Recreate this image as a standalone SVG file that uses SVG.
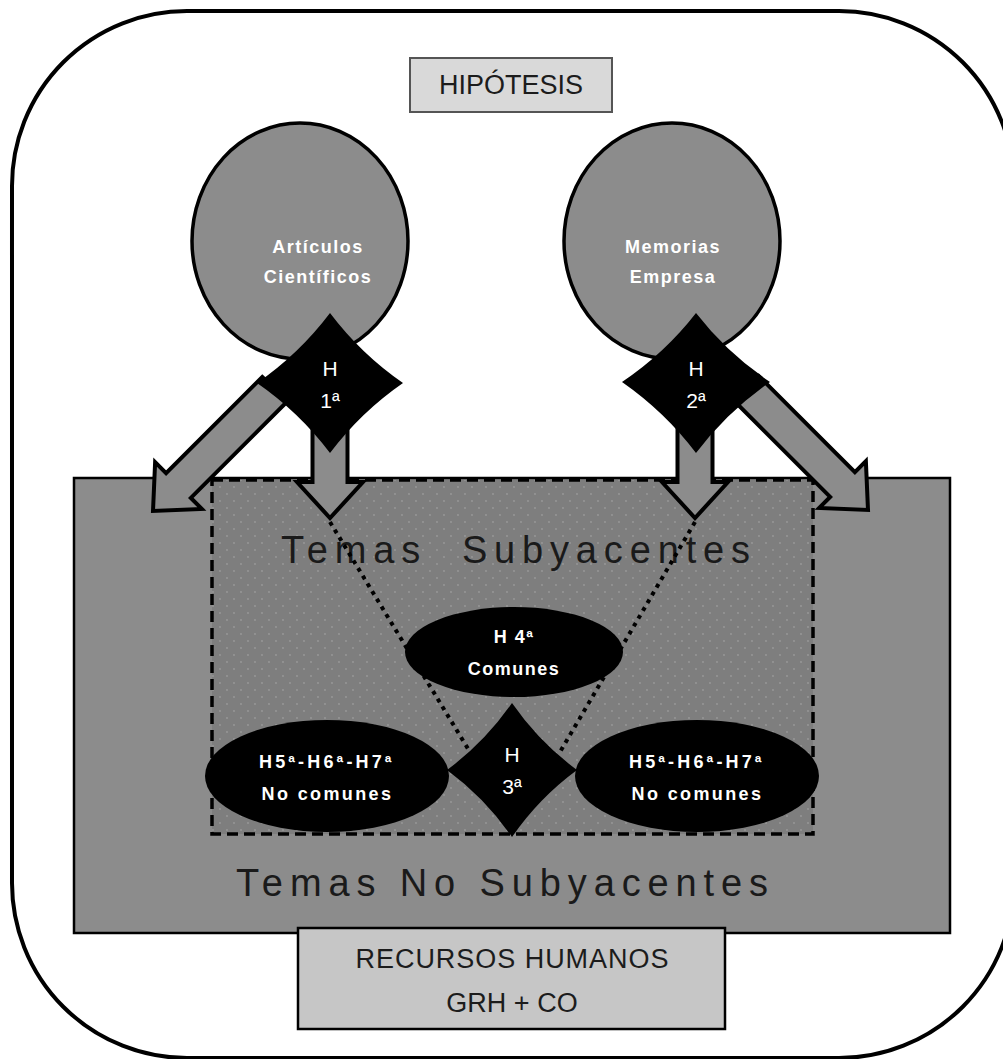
<svg xmlns="http://www.w3.org/2000/svg" xmlns:xlink="http://www.w3.org/1999/xlink" width="1003" height="1059" viewBox="0 0 1003 1059">
  <style>
    .frame { fill: #ffffff; stroke: #000000; stroke-width: 4; }
    .zone { fill: #8c8c8c; stroke: #000000; stroke-width: 2.5; }
    .core { fill: #7e7e7e; stroke: #000000; stroke-width: 3.5; stroke-dasharray: 11 6; }
    .source { fill: #8c8c8c; stroke: #000000; stroke-width: 3.5; }
    .arrow { fill: #8c8c8c; stroke: #000000; stroke-width: 4; stroke-linejoin: miter; }
    .blk { fill: #000000; }
    .dots { fill: none; stroke: #000000; stroke-width: 4; stroke-dasharray: 4 5; }
    .box { fill: #d9d9d9; stroke: #555555; stroke-width: 2; }
    .rh { fill: #c6c6c6; stroke: #000000; stroke-width: 2.5; }
    .lbl { font-family: "Liberation Sans", Arial, sans-serif; fill: #1c1c1c; text-anchor: middle; }
    .wt { font-family: "Liberation Sans", Arial, sans-serif; fill: #ffffff; text-anchor: middle; font-size: 18px; }
    .hn { font-size: 21px; }
    .wb { font-weight: bold; letter-spacing: 1.5px; }
    .big { font-family: "Liberation Sans", Arial, sans-serif; fill: #1a1a1a; font-size: 38px; }
  </style>
  <defs>
    <!-- block arrows, tip at origin, pointing toward +y -->
    <path id="arrowDiag" d="M-17.5,-172 L17.5,-172 L17.5,-36 L33,-36 L0,0 L-33,-36 L-17.5,-36 Z"/>
    <path id="arrowDownShort" d="M-17.5,-118 L17.5,-118 L17.5,-36 L33,-36 L0,0 L-33,-36 L-17.5,-36 Z"/>
    <pattern id="speckle" width="14" height="14" patternUnits="userSpaceOnUse">
      <rect width="14" height="14" fill="#7e7e7e"/>
      <circle cx="3" cy="4" r="0.9" fill="#999999"/>
      <circle cx="10" cy="11" r="0.9" fill="#999999"/>
    </pattern>
  </defs>

  <!-- outer frame -->
  <rect class="frame" x="12" y="11" width="1002" height="1047" rx="175" ry="175"/>

  <g id="hipotesis">
    <rect class="box" x="410" y="58" width="202" height="54"/>
    <text class="lbl" x="511" y="94" font-size="27">HIPÓTESIS</text>
  </g>

  <g id="temas-no-subyacentes">
    <rect class="zone" x="74" y="478" width="876" height="455"/>
    <text class="big" x="236" y="896" textLength="532" lengthAdjust="spacing">Temas No Subyacentes</text>
  </g>

  <g id="temas-subyacentes">
    <rect class="core" x="212" y="480" width="601" height="354" style="fill:url(#speckle)"/>
    <text class="big" x="281" y="563" textLength="469" lengthAdjust="spacing" xml:space="preserve">Temas  Subyacentes</text>
  </g>

  <g id="connectors">
    <!-- dotted links toward H3 -->
    <line class="dots" x1="330" y1="522" x2="470" y2="752"/>
    <line class="dots" x1="695" y1="522" x2="560" y2="752"/>
    <!-- block arrows out of each source -->
    <use href="#arrowDiag" class="arrow" transform="translate(153,511) rotate(45)"/>
    <use href="#arrowDownShort" class="arrow" transform="translate(330,518)"/>
    <use href="#arrowDownShort" class="arrow" transform="translate(695,518)"/>
    <use href="#arrowDiag" class="arrow" transform="translate(868,510) rotate(-45)"/>
  </g>

  <g id="articulos">
    <ellipse class="source" cx="300" cy="241" rx="108" ry="118"/>
    <text class="wt wb" x="318" y="253">Artículos</text>
    <text class="wt wb" x="318" y="283">Científicos</text>
  </g>

  <g id="memorias">
    <ellipse class="source" cx="672" cy="241" rx="108" ry="118"/>
    <text class="wt wb" x="673" y="253">Memorias</text>
    <text class="wt wb" x="673" y="283">Empresa</text>
  </g>

  <g id="h1">
    <path class="blk" d="M330,313 Q361,354 403,383 Q361,412 330,453 Q299,412 257,383 Q299,354 330,313 Z"/>
    <text class="wt hn" x="330" y="376">H</text>
    <text class="wt hn" x="330" y="408">1ª</text>
  </g>

  <g id="h2">
    <path class="blk" d="M696,313 Q727,353 770,382 Q727,412 696,453 Q665,412 622,382 Q665,353 696,313 Z"/>
    <text class="wt hn" x="696" y="376">H</text>
    <text class="wt hn" x="696" y="408">2ª</text>
  </g>

  <g id="h4">
    <ellipse class="blk" cx="514" cy="652" rx="109" ry="45"/>
    <text class="wt wb" x="514" y="643">H 4ª</text>
    <text class="wt wb" x="514" y="675">Comunes</text>
  </g>

  <g id="h5-left">
    <ellipse class="blk" cx="327" cy="776" rx="122" ry="56"/>
    <text class="wt wb" x="326" y="768" font-size="19" textLength="134" lengthAdjust="spacing">H5ª-H6ª-H7ª</text>
    <text class="wt wb" x="327" y="800" font-size="19" textLength="131" lengthAdjust="spacing">No comunes</text>
  </g>

  <g id="h5-right">
    <ellipse class="blk" cx="697" cy="776" rx="122" ry="56"/>
    <text class="wt wb" x="696" y="768" font-size="19" textLength="134" lengthAdjust="spacing">H5ª-H6ª-H7ª</text>
    <text class="wt wb" x="697" y="800" font-size="19" textLength="131" lengthAdjust="spacing">No comunes</text>
  </g>

  <g id="h3">
    <path class="blk" d="M512,703 Q539,742 577,770 Q539,798 512,837 Q485,798 447,770 Q485,742 512,703 Z"/>
    <text class="wt hn" x="512" y="762">H</text>
    <text class="wt hn" x="512" y="794">3ª</text>
  </g>

  <g id="recursos-humanos">
    <rect class="rh" x="298" y="928" width="427" height="101"/>
    <text class="lbl" x="512" y="968" font-size="27" textLength="313" lengthAdjust="spacing">RECURSOS HUMANOS</text>
    <text class="lbl" x="512" y="1012" font-size="27">GRH + CO</text>
  </g>
</svg>
